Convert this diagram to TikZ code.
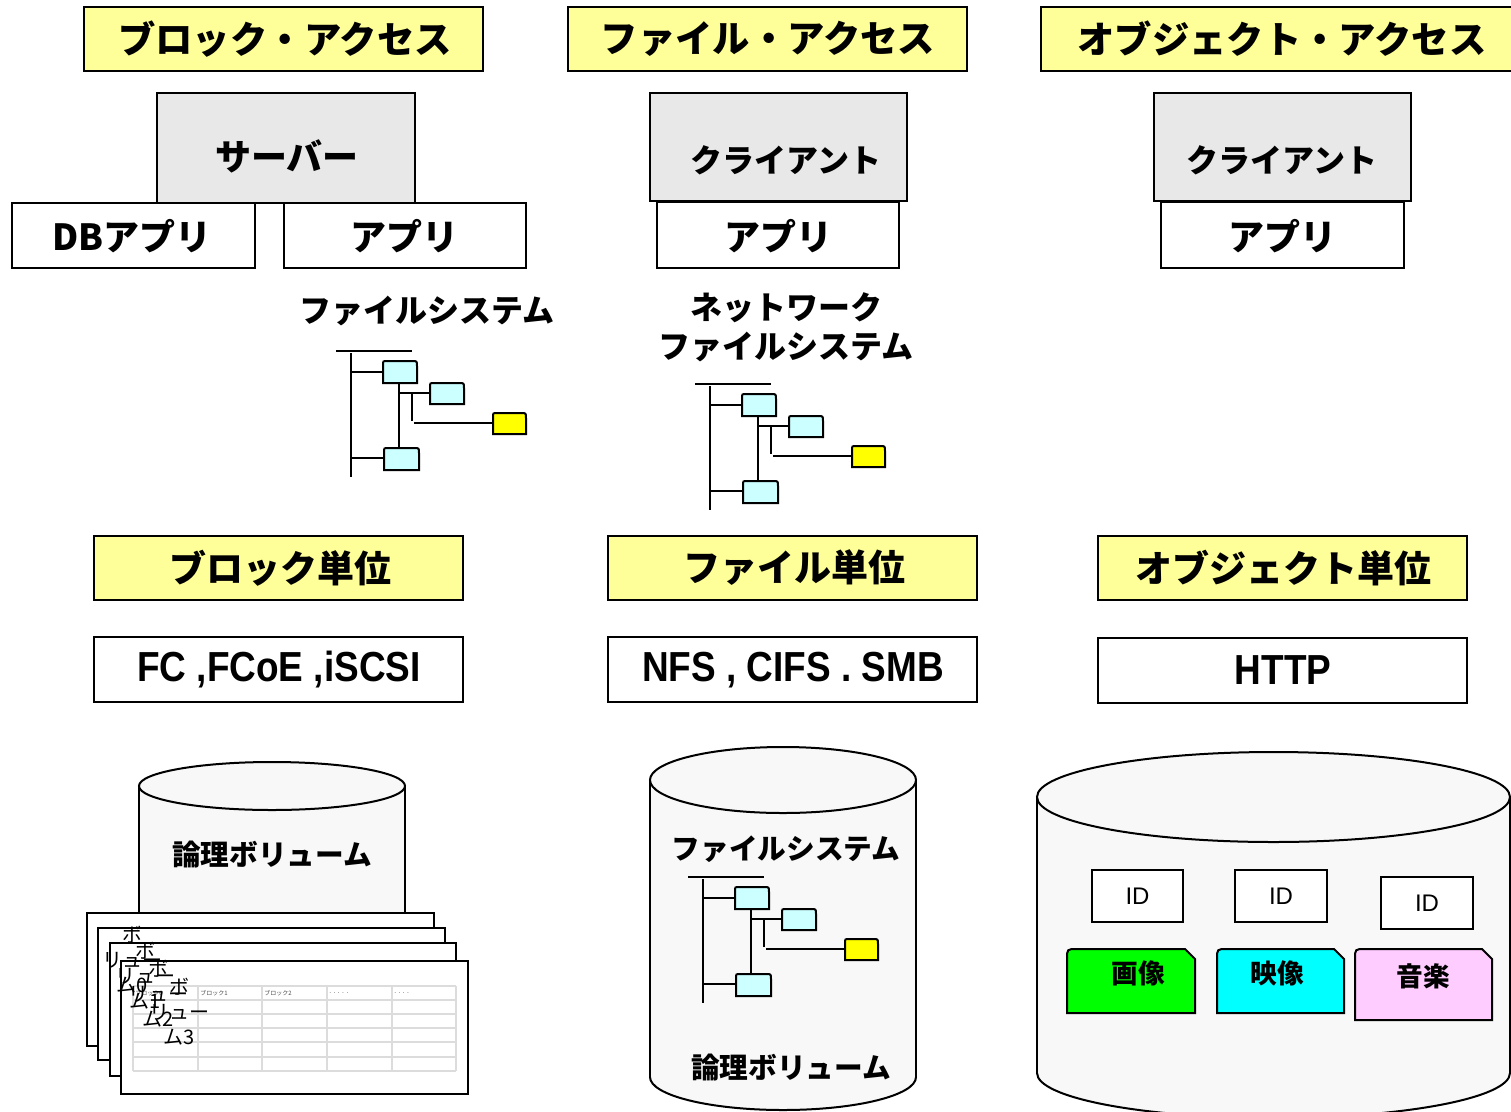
\documentclass[tikz,border=0pt]{standalone}
\usepackage{fontspec}
\setmainfont{Liberation Sans}
\newfontfamily\jp{Noto Sans CJK JP}
\newfontfamily\narrowfont{Liberation Sans}[FakeStretch=0.88]
\definecolor{yel}{HTML}{FFFF99}
\definecolor{gbox}{HTML}{E8E8E8}
\definecolor{cylf}{HTML}{F8F8F8}
\definecolor{fcyan}{HTML}{CCFFFF}
\definecolor{fyel}{HTML}{FFFF00}
\definecolor{imgc}{HTML}{00FF00}
\definecolor{movc}{HTML}{00FFFF}
\definecolor{musc}{HTML}{FFCCFF}
\definecolor{gridc}{HTML}{DCDCDC}
\newcommand\fsz[1]{\fontsize{#1}{#1}\selectfont}
% small folder in tree
\newcommand\smfold[5]{\draw[ln,fill=#5] (#1,{#2+#4}) -- (#1,{#2+4}) .. controls (#1,#2) .. ({#1+4},#2) -- ({#1+#3-5},#2) .. controls ({#1+#3},#2) .. ({#1+#3},{#2+5}) -- ({#1+#3},{#2+#4}) -- cycle;}
% big folder
\newcommand\bigfold[5]{\draw[ln,fill=#5] (#1,{#2+#4}) -- (#1,{#2+10}) .. controls (#1,#2) .. ({#1+10},#2) -- ({#1+#3-10},#2) -- ({#1+#3},{#2+10}) -- ({#1+#3},{#2+#4}) -- cycle;}
% file tree
\newcommand\fstree[2]{%
\begin{scope}[shift={(#1,#2)}]
\draw[ln] (336,351) -- (412,351);
\draw[ln] (351,353) -- (351,477);
\draw[ln] (351,372) -- (383,372);
\draw[ln] (399,383) -- (399,448);
\draw[ln] (399,393) -- (430,393);
\draw[ln] (412,393) -- (412,421);
\draw[ln] (414,423) -- (493,423);
\draw[ln] (351,458) -- (384,458);
\smfold{383}{361}{34}{22}{fcyan}
\smfold{430}{383}{34}{21}{fcyan}
\smfold{493}{413}{33}{21}{fyel}
\smfold{384}{448}{35}{22}{fcyan}
\end{scope}}
\begin{document}
\begin{tikzpicture}[x=0.75pt,y=-0.75pt,
  ln/.style={line width=1.5pt,draw=black},
  bx/.style={line width=1.5pt,draw=black},
  ttl/.style={font=\jp\bfseries\fsz{27},inner sep=0pt},
  big/.style={font=\jp\bfseries\fsz{28},inner sep=0pt},
  lbl/.style={font=\jp\bfseries\fsz{24},inner sep=0pt},
  cyl/.style={font=\jp\bfseries\fsz{21.5},inner sep=0pt},
  proto/.style={font=\narrowfont\bfseries\fsz{31.5},inner sep=0pt},
  pglbl/.style={font=\jp\fontsize{15}{18.75}\selectfont,align=center,inner sep=0pt},
  tiny/.style={font=\jp\fsz{4.5},inner sep=0pt,anchor=west,text=black!70}]
\useasboundingbox (0,0) rectangle (1511,1111);
\clip (0,0) rectangle (1511,1111);

% ---- titles
\draw[bx,fill=yel] (84,7) rectangle (483,71);
\node[big] (t1) at (285,39) {ブロック・アクセス};
\draw[bx,fill=yel] (568,7) rectangle (967,71);
\node[big] (t2) at (768,39) {ファイル・アクセス};
\draw[bx,fill=yel] (1041,7) rectangle (1513,71);
\node[big] (t3) at (1282,39) {オブジェクト・アクセス};

% ---- hosts
\draw[bx,fill=gbox] (157,93) rectangle (415,203);
\node[ttl] (srv) at (287,156) {サーバー};
\draw[bx,fill=white] (12,203) rectangle (255,268);
\node[ttl] (dbapp) at (132,236) {DBアプリ};
\draw[bx,fill=white] (284,203) rectangle (526,268);
\node[ttl] (app1) at (404,236) {アプリ};

\draw[bx,fill=gbox] (650,93) rectangle (907,201);
\node[lbl] (cl2) at (786,160) {クライアント};
\draw[bx,fill=white] (657,202) rectangle (899,268);
\node[ttl] (app2) at (778,236) {アプリ};

\draw[bx,fill=gbox] (1154,93) rectangle (1411,201);
\node[lbl] (cl3) at (1282,160) {クライアント};
\draw[bx,fill=white] (1161,202) rectangle (1404,268);
\node[ttl] (app3) at (1282,236) {アプリ};

% ---- file system labels and trees
\node[lbl] (fs1) at (427,311) {ファイルシステム};
\node[lbl] (nfs1) at (786,308) {ネットワーク};
\node[lbl] (nfs2) at (786,347) {ファイルシステム};
\fstree{0}{0}
\fstree{359}{33}

% ---- unit boxes
\draw[bx,fill=yel] (94,536) rectangle (463,600);
\node[ttl,font=\jp\bfseries\fsz{27.75}] (u1) at (280,568) {ブロック単位};
\draw[bx,fill=yel] (608,536) rectangle (977,600);
\node[ttl,font=\jp\bfseries\fsz{27.75}] (u2) at (794,568) {ファイル単位};
\draw[bx,fill=yel] (1098,536) rectangle (1467,600);
\node[ttl,font=\jp\bfseries\fsz{27.75}] (u3) at (1283,568) {オブジェクト単位};

% ---- protocol boxes
\draw[bx,fill=white] (94,637) rectangle (463,702);
\node[proto] (p1) at (279,670) {FC ,FCoE ,iSCSI};
\draw[bx,fill=white] (608,637) rectangle (977,702);
\node[proto] (p2) at (793,670) {NFS , CIFS . SMB};
\draw[bx,fill=white] (1098,638) rectangle (1467,703);
\node[proto] (p3) at (1283,670) {HTTP};

% ---- left cylinder (block)
\fill[cylf] (139,786) rectangle (405,913);
\draw[ln] (139,786) -- (139,913);
\draw[ln] (405,786) -- (405,913);
\draw[ln,fill=cylf] (272,786) ellipse [x radius=133, y radius=24];
\node[cyl] (lv1) at (272,855) {論理ボリューム};

% pages
\draw[bx,fill=white] (87,913) rectangle (434,1046);
\draw[bx,fill=white] (98,928) rectangle (445,1060);
\draw[bx,fill=white] (110,943) rectangle (456,1076);
\draw[bx,fill=white] (121,961) rectangle (468,1094);
\foreach \gx in {133,198,262,327,392,456} \draw[gridc,line width=0.9pt] (\gx,986) -- (\gx,1071);
\foreach \gy in {986,1000,1014,1028,1042,1057,1071} \draw[gridc,line width=0.9pt] (133,\gy) -- (456,\gy);
\node[tiny] (b0) at (135,993) {ブロック0};
\node[tiny] (b1) at (200,993) {ブロック1};
\node[tiny] (b2) at (264,993) {ブロック2};
\node[tiny,font=\fsz{5}] (b3) at (329,993) {. . . . .};
\node[tiny,font=\fsz{5}] (b4) at (394,993) {. . . .};
\node[pglbl] (v0) at (132,960) {ボ\\リュー\\ム0};
\node[pglbl] (v1) at (145,976) {ボ\\リュー\\ム1};
\node[pglbl] (v2) at (158,994) {ボ\\リュー\\ム2};
\node[pglbl] (v3) at (179,1012) {ボ\\リュー\\ム3};

% ---- middle cylinder (file)
\fill[cylf] (650,780) rectangle (916,1077);
\begin{scope}
\clip (600,1077) rectangle (960,1130);
\draw[ln,fill=cylf] (783,1077) ellipse [x radius=133, y radius=33];
\end{scope}
\draw[ln] (650,780) -- (650,1077);
\draw[ln] (916,780) -- (916,1077);
\draw[ln,fill=cylf] (783,780) ellipse [x radius=133, y radius=33];
\node[cyl] (fs3) at (786,849) {ファイルシステム};
\fstree{352}{526}
\node[cyl] (lv2) at (791,1068) {論理ボリューム};

% ---- right cylinder (object)
\fill[cylf] (1037,797) rectangle (1510,1073);
\begin{scope}
\clip (1000,1073) rectangle (1530,1130);
\draw[ln,fill=cylf] (1273.5,1073) ellipse [x radius=236.5, y radius=45];
\end{scope}
\draw[ln] (1037,797) -- (1037,1073);
\draw[ln] (1510,797) -- (1510,1073);
\draw[ln,fill=cylf] (1273.5,797) ellipse [x radius=236.5, y radius=45];

\draw[bx,fill=white] (1092,870) rectangle (1183,922);
\node[font=\fsz{18}] (id1) at (1137.5,896) {ID};
\draw[bx,fill=white] (1235,870) rectangle (1327,922);
\node[font=\fsz{18}] (id2) at (1281,896) {ID};
\draw[bx,fill=white] (1381,877) rectangle (1473,929);
\node[font=\fsz{18}] (id3) at (1427,903) {ID};

\bigfold{1067}{949}{128}{64}{imgc}
\node[font=\jp\bfseries\fsz{20},inner sep=0pt] (o1) at (1138,973) {画像};
\bigfold{1217}{949}{127}{64}{movc}
\node[font=\jp\bfseries\fsz{20},inner sep=0pt] (o2) at (1277,973) {映像};
\bigfold{1355}{949}{137}{71}{musc}
\node[font=\jp\bfseries\fsz{20},inner sep=0pt] (o3) at (1423,976) {音楽};
\end{tikzpicture}
\end{document}
